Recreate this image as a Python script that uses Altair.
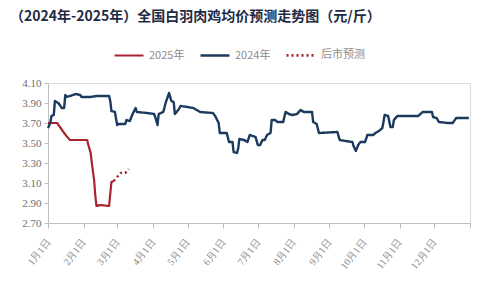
import altair as alt
import pandas as pd

# 2024 series (month-day, price 元/斤)
d2024 = ["01-01","01-03","01-04","01-06","01-07","01-10","01-13","01-15","01-16","01-17",
         "01-20","01-25","01-29","01-30","02-07","02-12","02-23","02-24","02-25","02-28",
         "03-01","03-02","03-08","03-09","03-12","03-14","03-17","03-18","03-27","04-02",
         "04-03","04-05","04-06","04-10","04-12","04-15","04-17","04-19","04-20","04-23",
         "04-25","05-01","05-06","05-12","05-23","05-25","05-28","05-29","06-04","06-06",
         "06-09","06-10","06-13","06-14","06-15","06-19","06-22","06-24","06-29","07-01",
         "07-03","07-05","07-07","07-09","07-12","07-13","07-16","07-18","07-23","07-25",
         "07-28","07-31","08-04","08-07","08-10","08-17","08-18","08-21","08-23","09-08",
         "09-10","09-15","09-21","09-22","09-24","09-26","09-28","10-02","10-04","10-09",
         "10-11","10-14","10-17","10-19","10-22","10-24","10-26","10-27","10-30","11-17",
         "11-21","11-29","11-30","12-03","12-05","12-13","12-17","12-20","12-31"]
v2024 = [3.65,3.70,3.77,3.78,3.92,3.90,3.85,3.85,3.98,3.96,
         3.97,3.99,3.98,3.96,3.96,3.97,3.97,3.92,3.82,3.81,
         3.68,3.69,3.69,3.73,3.72,3.78,3.85,3.81,3.80,3.79,
         3.76,3.68,3.79,3.81,3.90,4.00,3.92,3.91,3.79,3.83,
         3.87,3.86,3.85,3.81,3.80,3.77,3.70,3.60,3.60,3.51,
         3.51,3.41,3.40,3.45,3.54,3.53,3.51,3.58,3.56,3.48,
         3.48,3.53,3.53,3.58,3.60,3.73,3.73,3.71,3.71,3.81,
         3.79,3.78,3.79,3.83,3.81,3.81,3.71,3.69,3.60,3.61,
         3.53,3.52,3.51,3.47,3.42,3.48,3.51,3.51,3.58,3.58,
         3.60,3.62,3.65,3.78,3.77,3.66,3.66,3.73,3.77,3.77,
         3.81,3.81,3.76,3.75,3.71,3.70,3.70,3.75,3.75]

# 2025 series (month-day, plotted on the same Jan-Dec axis)
d2025 = ["01-01","01-09","01-10","01-12","01-15","01-17","01-20","02-04","02-05","02-07",
         "02-08","02-10","02-11","02-12","02-15","02-23","02-24","02-25","02-27"]
v2025 = [3.70,3.70,3.68,3.65,3.60,3.57,3.53,3.53,3.48,3.40,
         3.30,3.13,2.98,2.87,2.88,2.87,2.99,3.11,3.12]

# forecast
dfc = ["02-27","03-01","03-04","03-08","03-11"]
vfc = [3.12,3.16,3.20,3.20,3.24]

series = ["2025年", "2024年", "后市预测"]

rows = []
for name, ds, vs in [(series[0], d2025, v2025), (series[1], d2024, v2024), (series[2], dfc, vfc)]:
    for d, v in zip(ds, vs):
        rows.append({"date": "2024/" + d.replace("-", "/"), "price": v, "series": name})
df = pd.DataFrame(rows)

month_ticks = [alt.DateTime(year=2024, month=m, date=1) for m in range(1, 13)] + \
              [alt.DateTime(year=2025, month=1, date=1)]

RED = "#a8232e"
BLUE = "#1b3a5e"
AXIS_GREY = "#bfbfbf"
LABEL_GREY = "#6e6e6e"

chart = alt.Chart(df).mark_line(strokeJoin="round").encode(
    x=alt.X("date:T",
            scale=alt.Scale(domain=[alt.DateTime(year=2024, month=1, date=1),
                                    alt.DateTime(year=2025, month=1, date=1)]),
            axis=alt.Axis(values=month_ticks,
                          labelExpr="year(datum.value) > 2024 ? '' : (month(datum.value)+1) + '月1日'",
                          labelAngle=308, labelFont="Liberation Serif", labelFontSize=10,
                          labelColor="#8c8c8c", labelPadding=12, grid=False,
                          domainColor=AXIS_GREY, tickColor=AXIS_GREY, tickSize=5,
                          title=None, labelOverlap=False)),
    y=alt.Y("price:Q",
            scale=alt.Scale(domain=[2.70, 4.10], nice=False, zero=False),
            axis=alt.Axis(values=[2.7, 2.9, 3.1, 3.3, 3.5, 3.7, 3.9, 4.1], format=".2f",
                          labelFont="Liberation Serif", labelFontSize=11, labelColor=LABEL_GREY,
                          grid=False, domainColor=AXIS_GREY, tickColor=AXIS_GREY, tickSize=4,
                          labelPadding=3, title=None)),
    color=alt.Color("series:N", scale=alt.Scale(domain=series, range=[RED, BLUE, RED]),
                    legend=alt.Legend(title=None, orient="none", direction="horizontal",
                                      legendX=65, legendY=-44, symbolType="stroke",
                                      symbolSize=840, symbolStrokeWidth=2.5,
                                      labelFont="Noto Sans CJK SC", labelFontSize=11,
                                      labelColor="#8c8c8c", columnPadding=10, labelOffset=4,
                                      padding=0)),
    strokeDash=alt.StrokeDash("series:N", scale=alt.Scale(domain=series, range=[[1, 0], [1, 0], [2, 3]])),
    strokeWidth=alt.StrokeWidth("series:N", scale=alt.Scale(domain=series, range=[2.2, 2.6, 2.2])),
).properties(
    width=422, height=140,
    title=alt.TitleParams("（2024年-2025年）全国白羽肉鸡均价预测走势图（元/斤）",
                          anchor="start", frame="group", font="Noto Sans CJK SC",
                          fontSize=14, fontWeight="bold", color="#1f2a44", dx=-38, offset=15),
    autosize=alt.AutoSizeParams(type="none"),
    padding={"left": 48, "top": 83, "right": 12, "bottom": 72},
).configure_view(stroke=None).configure(background="white")

chart.save("out.html", embed_options={"renderer": "svg", "actions": False})
